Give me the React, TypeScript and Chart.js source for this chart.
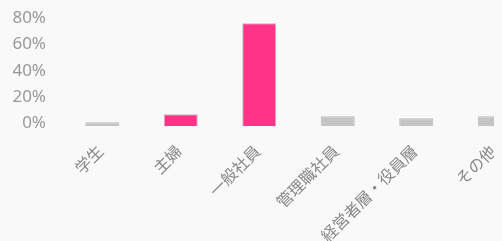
import React, { useEffect, useRef } from "react";
import { Chart, registerables } from "chart.js";

Chart.register(...registerables);

const categories = ["学生", "主婦", "一般社員", "管理職社員", "経営者層・役員層", "その他"];
const values = [0.7, 6.9, 76.2, 5.3, 3.8, 5.3];
const highlight = [false, true, true, false, false, false];
const yTicks = [0, 20, 40, 60, 80];
const yMin = -2.3;
const yMax = 80;

const PINK = "#ff3388";
const GRAY = "#c4c4c4";

export default function App() {
  const ref = useRef<HTMLCanvasElement | null>(null);
  useEffect(() => {
    document.body.style.background = "#f9f9f9";
    document.body.style.overflow = "hidden";
    const chart = new Chart(ref.current!, {
      type: "bar",
      data: {
        labels: categories,
        datasets: [
          {
            data: values,
            base: yMin,
            backgroundColor: highlight.map((h) => (h ? PINK : GRAY)),
            borderColor: "rgba(170,170,170,0.8)",
            borderWidth: 1,
            categoryPercentage: 1,
            barPercentage: 0.433,
          },
        ],
      },
      options: {
        animation: false,
        responsive: false,
        maintainAspectRatio: false,
        layout: { padding: { top: 10.3, right: 0, left: 0, bottom: 0 } },
        plugins: { legend: { display: false }, tooltip: { enabled: false } },
        scales: {
          y: {
            min: yMin,
            max: yMax,
            grid: { display: false, drawTicks: false },
            border: { display: false },
            afterBuildTicks: (s: any) => {
              s.ticks = yTicks.map((v) => ({ value: v }));
            },
            afterFit: (s: any) => {
              s.width = 55;
              s.paddingTop = 0;
              s.paddingBottom = 0;
            },
            ticks: {
              padding: 17,
              color: "#999",
              font: { family: "'Noto Sans', sans-serif", size: 17 },
              callback: (v: any) => v + "%",
            },
          },
          x: {
            grid: { display: false, drawTicks: false },
            border: { display: false },
            afterFit: (s: any) => {
              s.height = 191.7;
            },
            ticks: {
              padding: 15,
              labelOffset: -2,
              minRotation: 45,
              maxRotation: 45,
              autoSkip: false,
              color: "#888",
              font: { family: "'Noto Sans CJK JP', sans-serif", size: 16 },
            },
          },
        },
      },
    });
    return () => chart.destroy();
  }, []);
  return (
    <div style={{ width: 526, height: 310 }}>
      <canvas ref={ref} width={526} height={310} style={{ display: "block" }} />
    </div>
  );
}
